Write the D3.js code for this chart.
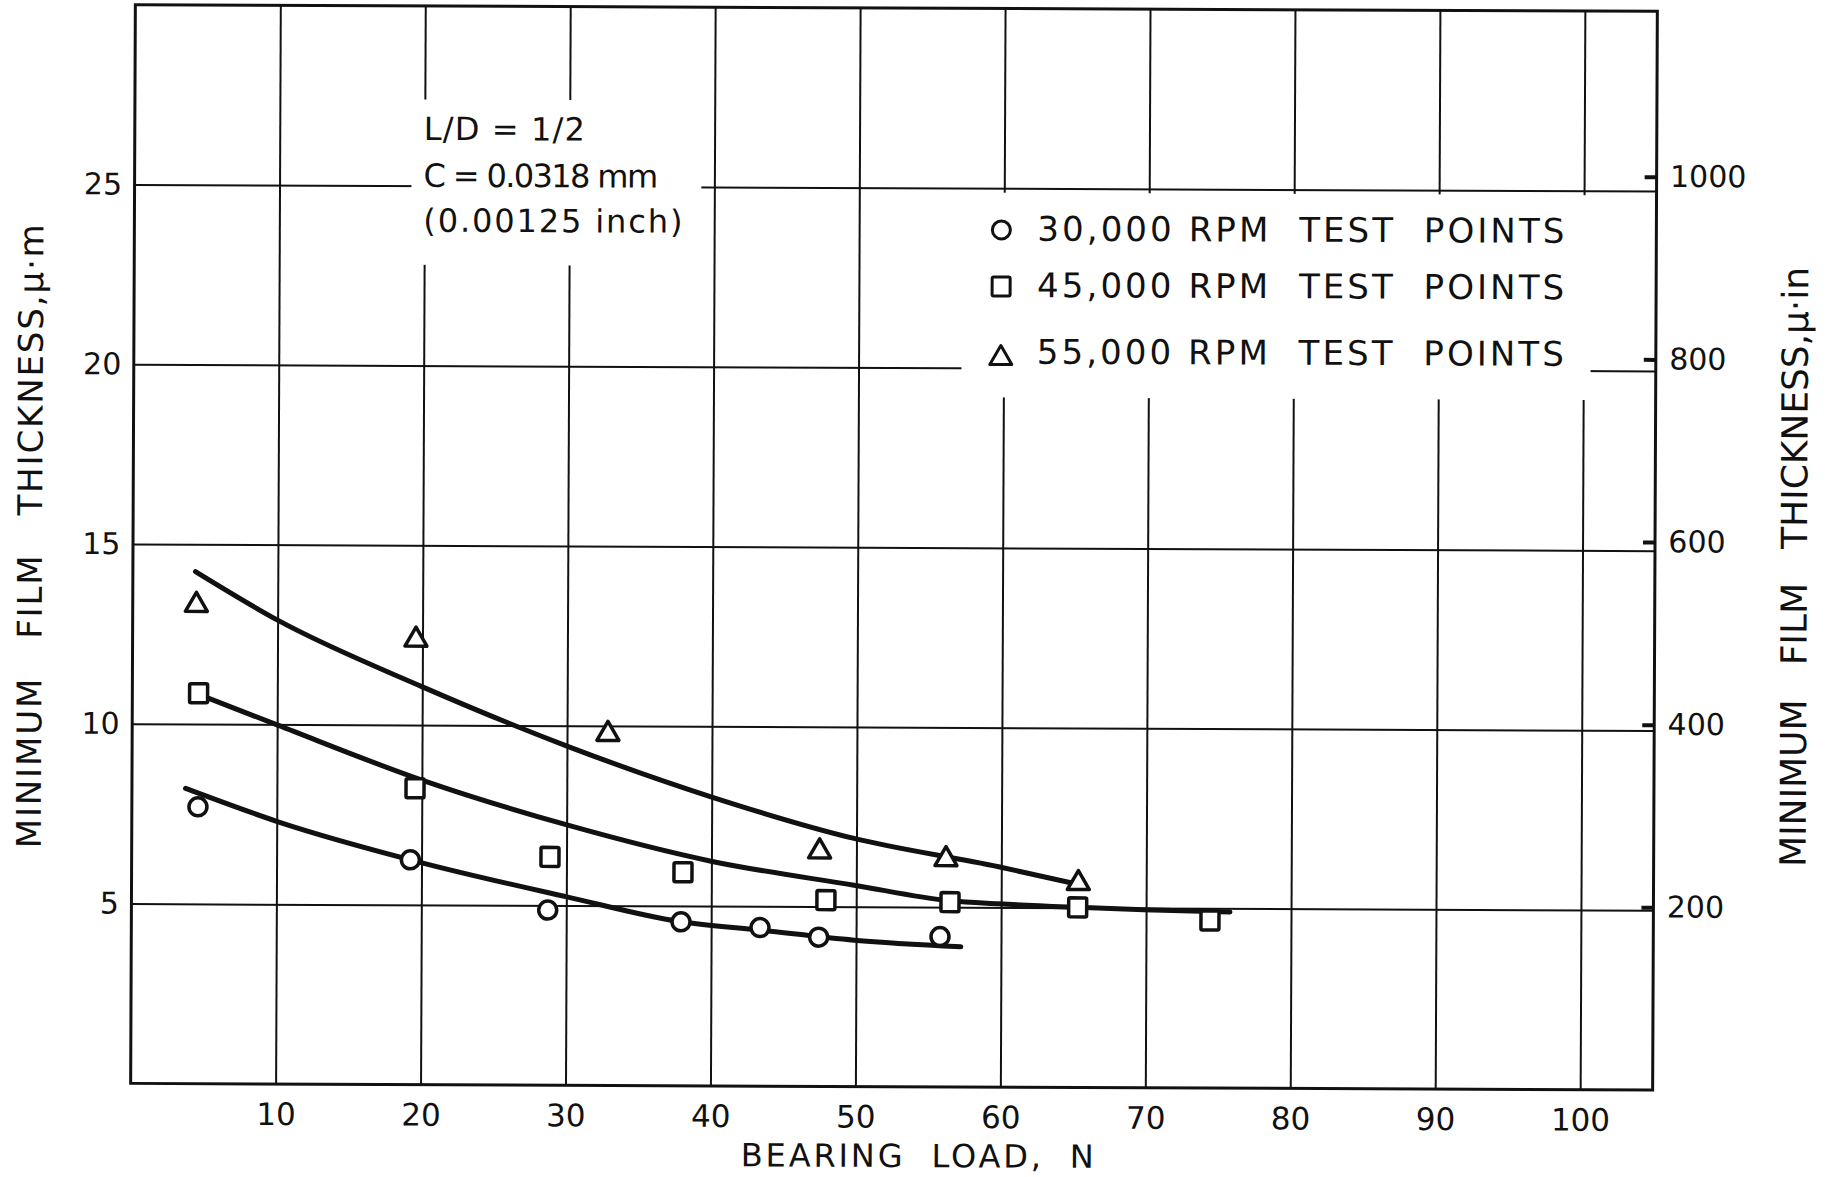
<!DOCTYPE html>
<html>
<head>
<meta charset="utf-8">
<script src="https://cdn.jsdelivr.net/npm/d3@7"></script>
<style>
  html, body { margin: 0; padding: 0; background: #fff; }
  svg { display: block; }
  text { font-family: "DejaVu Sans", sans-serif; fill: #111; white-space: pre; }
</style>
</head>
<body>
<svg id="chart" width="1838" height="1177"></svg>
<script>
// test points, bearing load (N) vs minimum film thickness (micrometres)
const load30k = [4.56, 19.23, 28.72, 37.92, 43.37, 47.42, 55.79];
const film30k = [7.70, 6.25, 4.87, 4.56, 4.41, 4.15, 4.18];
const load45k = [4.57, 19.53, 28.86, 38.04, 47.91, 56.47, 65.28, 74.41];
const film45k = [10.86, 8.24, 6.35, 5.94, 5.18, 5.14, 5.01, 4.66];
const load55k = [4.39, 19.55, 32.82, 47.46, 56.18, 65.32];
const film55k = [13.40, 12.46, 9.86, 6.62, 6.42, 5.77];

// hand drawn fitted curves
const fit30kX = [3.70, 10.04, 20.03, 30.04, 37.92, 43.37, 49.86, 57.23];
const fit30kY = [8.21, 7.30, 6.17, 5.24, 4.56, 4.34, 4.07, 3.90];
const fit45kX = [5.19, 10.04, 20.0, 30.02, 39.97, 49.85, 56.47, 59.81, 65.28, 69.82, 75.79];
const fit45kY = [10.73, 9.98, 8.47, 7.24, 6.25, 5.60, 5.18, 5.10, 5.01, 4.95, 4.90];
const fit55kX = [4.32, 10.0, 19.97, 30.09, 39.95, 49.83, 59.81, 64.97];
const fit55kY = [14.24, 12.90, 11.07, 9.42, 8.04, 6.90, 6.13, 5.68];

// axes
const xTicks = [10, 20, 30, 40, 50, 60, 70, 80, 90, 100];
const yTicks = [5, 10, 15, 20, 25];
const yInTicks = [200, 400, 600, 800, 1000];
const legendLabels = ['30,000 RPM  TEST  POINTS', '45,000 RPM  TEST  POINTS', '55,000 RPM  TEST  POINTS'];
const noteLines = ['L/D = 1/2', 'C = 0.0318 mm', '(0.00125 inch)'];

const ink = '#111';
const svg = d3.select('#chart');
// the scanned sheet sits a little crooked
const g = svg.append('g').attr('transform', 'rotate(0.25, 893, 546)');

const x = d3.scaleLinear().domain([0, 105]).range([133, 1655]);
const y = d3.scaleLinear().domain([0, 30]).range([1086.7, 8]);
const yIn = d3.scaleLinear().domain([0, 30 / 0.0254]).range([1086.7, 8]);
const plotW = x(105) - x(0);
const plotH = y(0) - y(30);

// vertical grid + load labels
g.append('g')
  .attr('transform', `translate(0,${y(0)})`)
  .call(d3.axisBottom(x).tickValues(xTicks).tickSize(-plotH).tickPadding(19).tickFormat(d3.format('d')))
  .attr('font-size', 31)
  .call(a => a.select('.domain').remove())
  .call(a => a.selectAll('line').attr('stroke', ink).attr('stroke-width', 2));

// horizontal grid + micrometre labels
g.append('g')
  .attr('transform', `translate(${x(0)},0)`)
  .call(d3.axisLeft(y).tickValues(yTicks).tickSize(-plotW).tickPadding(12.5))
  .attr('font-size', 30)
  .call(a => a.select('.domain').remove())
  .call(a => a.selectAll('line').attr('stroke', ink).attr('stroke-width', 2));

// white patches where the grid was cut for the note and the legend
const masks = [
  { x0: 19.1, x1: 39.1, y0: 22.8, y1: 27.4 },
  { x0: 57.1, x1: 100.5, y0: 19.18, y1: 24.88 }
];
g.selectAll('rect.mask')
  .data(masks)
  .join('rect')
  .attr('class', 'mask')
  .attr('x', d => x(d.x0))
  .attr('y', d => y(d.y1))
  .attr('width', d => x(d.x1) - x(d.x0))
  .attr('height', d => y(d.y0) - y(d.y1))
  .attr('fill', '#fff');

// right hand microinch scale
g.append('g')
  .attr('transform', `translate(${x(105)},0)`)
  .call(d3.axisRight(yIn).tickValues(yInTicks).tickSize(-12).tickPadding(13.4).tickFormat(d3.format('d')))
  .attr('font-size', 30)
  .call(a => a.select('.domain').remove())
  .call(a => a.selectAll('line').attr('stroke', ink).attr('stroke-width', 4));

// frame
g.append('rect')
  .attr('x', x(0)).attr('y', y(30))
  .attr('width', plotW).attr('height', plotH)
  .attr('fill', 'none').attr('stroke', ink).attr('stroke-width', 3);

// fitted curves
const line = d3.line().x(d => x(d[0])).y(d => y(d[1])).curve(d3.curveMonotoneX);
[[fit30kX, fit30kY], [fit45kX, fit45kY], [fit55kX, fit55kY]].forEach(([xs, ys]) => {
  g.append('path')
    .attr('d', line(d3.zip(xs, ys)))
    .attr('fill', 'none')
    .attr('stroke', ink)
    .attr('stroke-width', 5)
    .attr('stroke-linecap', 'round');
});

// marker shapes
const shapes = {
  circle: sel => sel.append('circle').attr('r', 9),
  square: sel => sel.append('rect').attr('x', -9).attr('y', -9.5).attr('width', 18).attr('height', 19).attr('rx', 1.5),
  triangle: sel => sel.append('path').attr('d', 'M0,-9.5L11,9.5L-11,9.5Z')
};

function drawMarkers(xs, ys, shape) {
  g.append('g')
    .selectAll('g')
    .data(d3.zip(xs, ys))
    .join('g')
    .attr('transform', d => `translate(${x(d[0])},${y(d[1])})`)
    .each(function () { shapes[shape](d3.select(this)); })
    .selectAll('*')
    .attr('fill', '#fff')
    .attr('stroke', ink)
    .attr('stroke-width', 3.5)
    .attr('stroke-linejoin', 'round');
}
drawMarkers(load30k, film30k, 'circle');
drawMarkers(load45k, film45k, 'square');
drawMarkers(load55k, film55k, 'triangle');

// legend
const legendRows = [
  { shape: 'circle', sy: 229.5, base: 240 },
  { shape: 'square', sy: 286, base: 296.5 },
  { shape: 'triangle', sy: 354.5, base: 363 }
];
legendRows.forEach((r, i) => {
  const s = g.append('g').attr('transform', `translate(1000,${r.sy})`);
  shapes[r.shape](s);
  s.selectAll('*')
    .attr('fill', '#fff').attr('stroke', ink)
    .attr('stroke-width', 3).attr('stroke-linejoin', 'round');
  g.append('text')
    .attr('x', 1036).attr('y', r.base)
    .attr('font-size', 34)
    .attr('textLength', 527)
    .attr('lengthAdjust', 'spacing')
    .text(legendLabels[i]);
});

// note on the bearing
const noteY = [142, 188.7, 233.7];
const noteLen = [161, 234.5, 259];
noteLines.forEach((t, i) => {
  g.append('text')
    .attr('x', 422).attr('y', noteY[i])
    .attr('font-size', 32)
    .attr('textLength', noteLen[i])
    .attr('lengthAdjust', 'spacing')
    .text(t);
});

// axis titles
g.append('text')
  .attr('x', 920).attr('y', 1167)
  .attr('text-anchor', 'middle')
  .attr('font-size', 32)
  .attr('textLength', 353)
  .attr('lengthAdjust', 'spacing')
  .text('BEARING  LOAD,  N');

g.append('text')
  .attr('transform', 'translate(42,540) rotate(-90)')
  .attr('text-anchor', 'middle')
  .attr('font-size', 34)
  .attr('textLength', 624)
  .attr('lengthAdjust', 'spacing')
  .text('MINIMUM   FILM   THICKNESS,\u03bc\u00b7m');

g.append('text')
  .attr('transform', 'translate(1807,563) rotate(-90)')
  .attr('text-anchor', 'middle')
  .attr('font-size', 36)
  .attr('textLength', 600)
  .attr('lengthAdjust', 'spacing')
  .text('MINIMUM   FILM   THICKNESS,\u03bc\u00b7in');
</script>
</body>
</html>
